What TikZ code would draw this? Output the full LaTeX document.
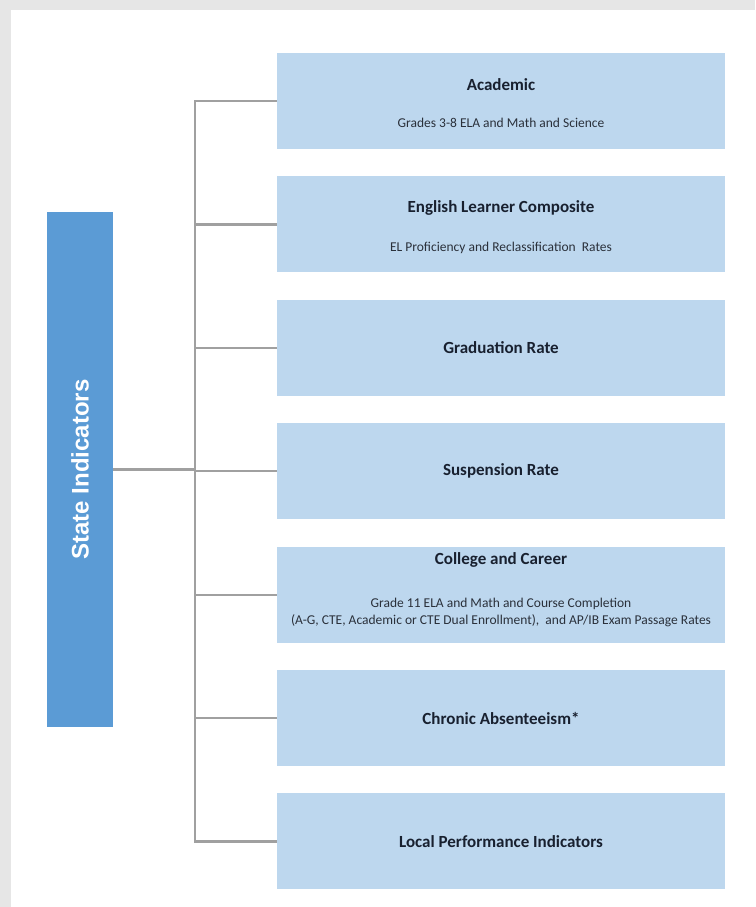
\documentclass[tikz,border=0pt]{standalone}
\usepackage{fontspec}
\setmainfont{Carlito}
\newfontfamily\statefont{Liberation Sans}
\usepackage{xcolor}
\usetikzlibrary{positioning}

\definecolor{pagegray}{HTML}{E6E6E6}
\definecolor{boxblue}{HTML}{BDD7EE}
\definecolor{stateblue}{HTML}{5B9BD5}
\definecolor{linkgray}{HTML}{A0A0A0}
\definecolor{titlenavy}{HTML}{18202F}
\definecolor{subgray}{HTML}{2A303A}

\begin{document}
\begin{tikzpicture}[x=1pt, y=-1pt, node distance=27pt,
  indbox/.style={rectangle, fill=boxblue, minimum width=448pt, minimum height=96pt, inner sep=0pt},
  indtitle/.style={text=titlenavy, font=\fontsize{17}{20}\selectfont\bfseries, inner sep=0pt},
  indsub/.style={text=subgray, font=\fontsize{13.5}{17}\selectfont, align=center, inner sep=0pt},
  link/.style={draw=linkgray, line width=2.2pt}]

% Background
\useasboundingbox (0,0) rectangle (755,907);
\fill[pagegray] (0,0) rectangle (755,907);
\fill[white] (11,10) rectangle (755,907);

% Indicator boxes
\node[indbox] (acad) at (501,101) {};
\node[indbox, below=of acad] (elc) {};
\node[indbox, below=of elc] (grad) {};
\node[indbox, below=of grad] (susp) {};
\node[indbox, below=of susp] (cci) {};
\node[indbox, below=of cci] (chron) {};
\node[indbox, below=of chron] (local) {};

% Box texts
\node[indtitle] (acadT) at ([yshift=16pt]acad.center) {Academic};
\node[indsub] (acadS) at ([yshift=-22pt]acad.center) {Grades 3-8 ELA and Math and Science};
\node[indtitle] (elcT) at ([yshift=16pt]elc.center) {English Learner Composite};
\node[indsub] (elcS) at ([yshift=-23pt]elc.center) {EL Proficiency and Reclassification~ Rates};
\node[indtitle] (gradT) at (grad.center) {Graduation Rate};
\node[indtitle] (suspT) at (susp.center) {Suspension Rate};
\node[indtitle] (cciT) at ([yshift=35pt]cci.center) {College and Career};
\node[indsub] (cciS) at ([yshift=-18pt]cci.center) {Grade 11 ELA and Math and Course Completion\\(A-G, CTE, Academic or CTE Dual Enrollment),~ and AP/IB Exam Passage Rates};
\node[indtitle] (chronT) at (chron.center) {Chronic Absenteeism*};
\node[indtitle] (localT) at (local.center) {Local Performance Indicators};

% State box
\node[rectangle, fill=stateblue, minimum width=66pt, minimum height=515pt, inner sep=0pt] (state) at (80,469.5) {};
\node[rotate=90, text=white, font=\statefont\fontsize{24}{27}\selectfont\bfseries, inner sep=0pt] (stateT) at (state.center) {State Indicators};

% Connectors
\coordinate (spine) at (195,0);
\draw[link] (state.east) -- (spine |- state.east);
\draw[link, line cap=rect] (spine |- acad.west) -- (spine |- local.west);
\foreach \b in {acad, elc, grad, susp, cci, chron, local}
  \draw[link] (spine |- \b.west) -- (\b.west);

\end{tikzpicture}
\end{document}
